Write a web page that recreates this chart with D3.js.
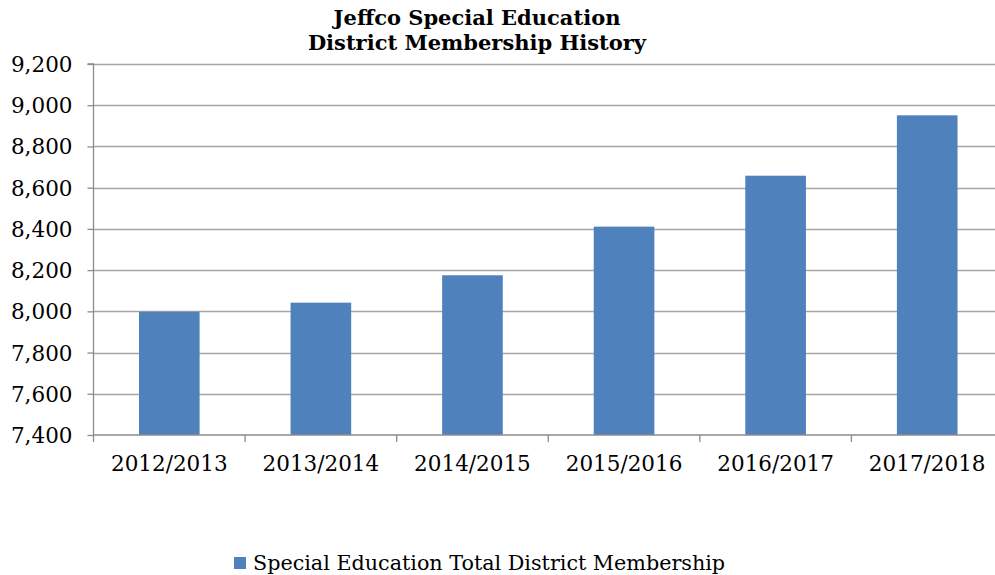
<!DOCTYPE html>
<html>
<head>
<meta charset="utf-8">
<script src="https://cdn.jsdelivr.net/npm/d3@7"></script>
<style>
  html, body { margin: 0; padding: 0; background: #fff; }
  svg { display: block; }
  text { font-family: "DejaVu Serif", Georgia, serif; fill: #000; }
</style>
</head>
<body>
<svg id="chart" width="995" height="575"></svg>
<script>
const categories = ["2012/2013", "2013/2014", "2014/2015", "2015/2016", "2016/2017", "2017/2018"];
const values = [7998, 8042, 8175, 8411, 8658, 8951];
const yTicks = [7400, 7600, 7800, 8000, 8200, 8400, 8600, 8800, 9000, 9200];
const titleLines = ["Jeffco Special Education", "District Membership History"];
const seriesName = "Special Education Total District Membership";

const svg = d3.select("#chart");
const margin = { left: 93.5, right: -8, top: 64, bottom: 140 };
const W = 995, H = 575;

const x = d3.scaleBand().domain(categories).range([margin.left, W - margin.right]).paddingInner(0.6).paddingOuter(0.3);
const xTickScale = d3.scaleBand().domain(categories).range([margin.left, W - margin.right]);
const y = d3.scaleLinear().domain([7400, 9200]).range([435, 64]);

// gridlines
svg.append("g").selectAll("line").data(yTicks.slice(1)).join("line")
  .attr("x1", margin.left).attr("x2", W)
  .attr("y1", d => Math.round(y(d)) + 0.5).attr("y2", d => Math.round(y(d)) + 0.5)
  .attr("stroke", "#a6a6a6").attr("stroke-width", 1.3);

// bars
svg.append("g").selectAll("rect").data(values).join("rect")
  .attr("x", (d, i) => x(categories[i]))
  .attr("width", x.bandwidth())
  .attr("y", d => y(d))
  .attr("height", d => y(7400) - y(d))
  .attr("fill", "#4f81bd");

// y axis
const yAxis = d3.axisLeft(y).tickValues(yTicks).tickSize(6).tickPadding(14).tickFormat(d3.format(","));
const gy = svg.append("g").attr("transform", `translate(${margin.left},0)`).call(yAxis);
gy.select(".domain").attr("stroke", "#8c8c8c").attr("stroke-width", 1.3).attr("d", `M-6,${y(9200)}H0V${y(7400)}`);
gy.selectAll(".tick line").attr("stroke", "#8c8c8c").attr("stroke-width", 1.3);
gy.selectAll(".tick text").attr("font-size", 21.5).attr("fill", "#000").attr("dy", "0.35em").attr("x", -21);

// x axis
const gx = svg.append("g").attr("transform", `translate(0,${y(7400)})`);
gx.append("line").attr("x1", margin.left).attr("x2", W).attr("stroke", "#8c8c8c").attr("stroke-width", 1.3);
gx.selectAll("line.tk").data(categories.concat(["end"])).join("line").attr("class", "tk")
  .attr("x1", (d, i) => margin.left + i * xTickScale.step()).attr("x2", (d, i) => margin.left + i * xTickScale.step())
  .attr("y1", 0).attr("y2", 7).attr("stroke", "#8c8c8c").attr("stroke-width", 1.3);
const xAxis = d3.axisBottom(x).tickSize(0).tickPadding(0);
const gxl = svg.append("g").attr("transform", `translate(0,${y(7400)})`).call(xAxis);
gxl.select(".domain").remove();
gxl.selectAll(".tick text").attr("font-size", 21.5).attr("fill", "#000").attr("dy", 0).attr("y", 36);

// title
svg.append("g").selectAll("text").data(titleLines).join("text")
  .attr("x", 477).attr("y", (d, i) => 25 + i * 25)
  .attr("text-anchor", "middle").attr("font-weight", "bold").attr("font-size", 21)
  .text(d => d);

// legend
const lg = svg.append("g").attr("transform", "translate(234,557)");
lg.append("rect").attr("width", 12).attr("height", 12).attr("fill", "#4f81bd");
lg.append("text").attr("x", 19).attr("y", 13).attr("font-size", 20.7).text(seriesName);
</script>
</body>
</html>
